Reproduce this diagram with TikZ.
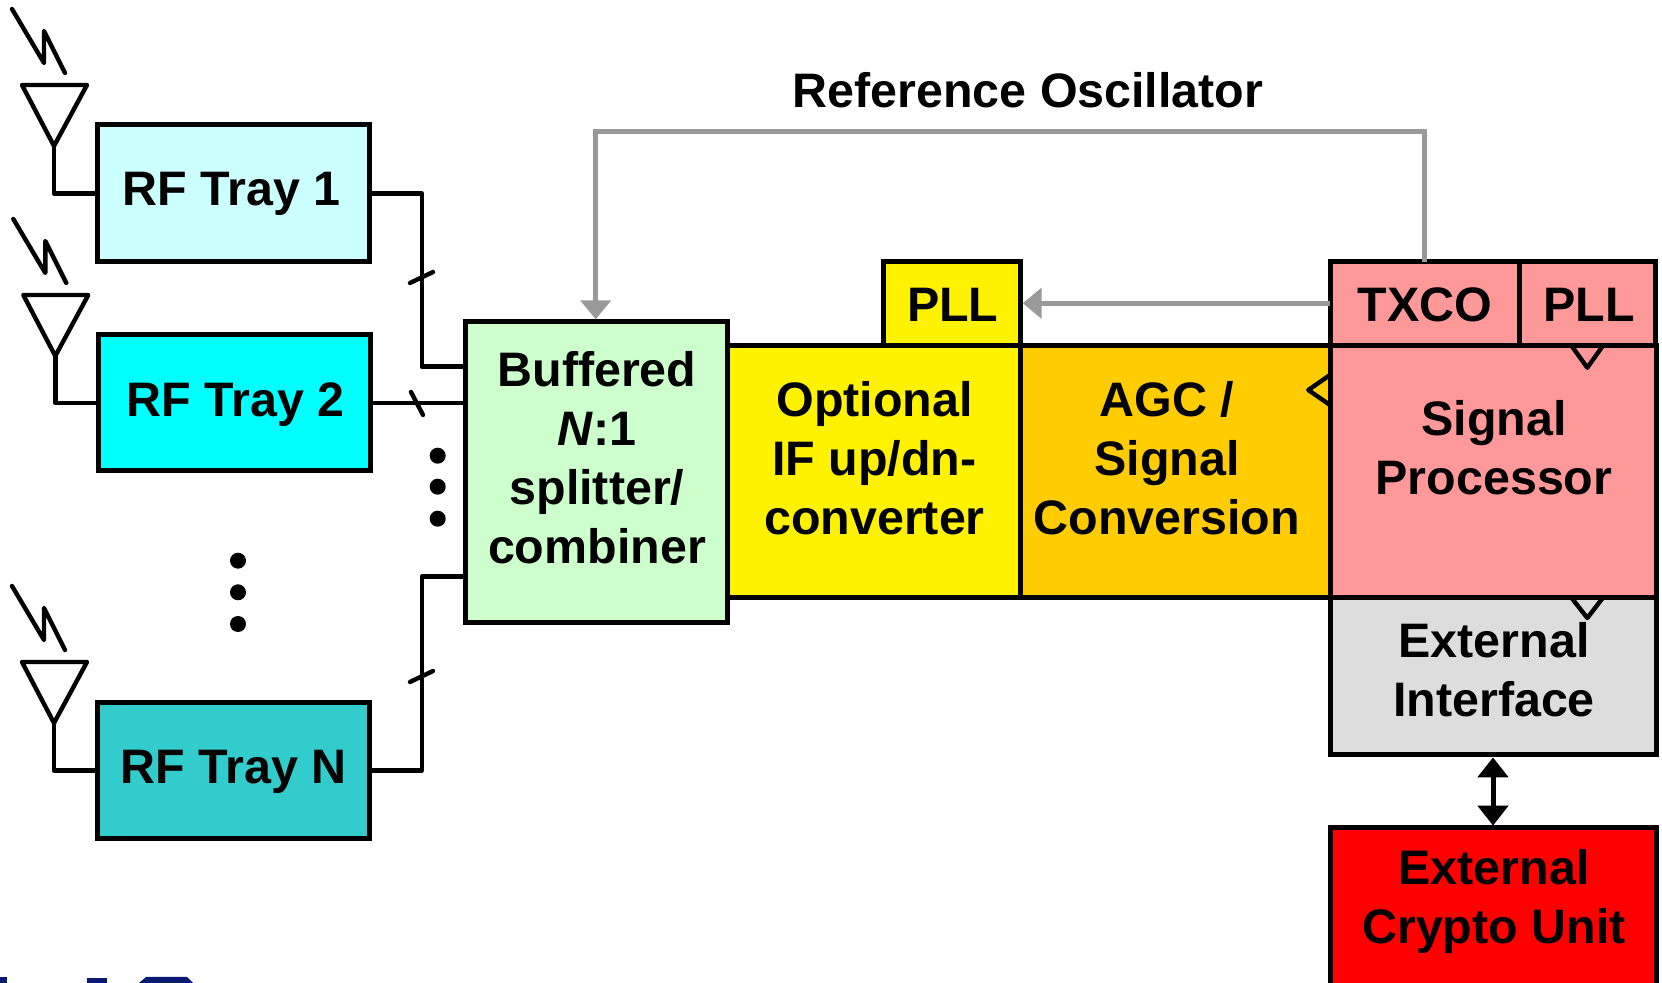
\documentclass[tikz,border=0pt]{standalone}
\usepackage{fontspec}
\setmainfont{Liberation Sans}
\usetikzlibrary{arrows.meta}
\definecolor{trayA}{HTML}{CCFFFF}
\definecolor{trayB}{HTML}{00FFFF}
\definecolor{trayC}{HTML}{33CCCC}
\definecolor{splitc}{HTML}{CCFFCC}
\definecolor{orangec}{HTML}{FFCC00}
\definecolor{pinkc}{HTML}{FF9999}
\definecolor{grayc}{HTML}{DDDDDD}
\definecolor{refgray}{HTML}{999999}
\definecolor{logoc}{HTML}{0A1A70}
\tikzset{
  box/.style={draw=black,line width=2.5pt,inner sep=0pt,outer sep=0pt,rectangle},
  wire/.style={draw=black,line width=2.2pt,line join=round},
  thin wire/.style={draw=black,line width=2.2pt,line cap=round,line join=round},
  refline/.style={draw=refgray,line width=2.5pt,line join=miter},
  reftip/.style={-{Triangle[length=9.5pt,width=15pt,color=refgray]},shorten >=1.2pt},
  label text/.style={font=\fontsize{24.2}{29.5}\selectfont\bfseries,align=center,inner sep=0pt},
  dotn/.style={circle,fill=black,draw=none,minimum size=8pt,inner sep=0pt},
  antenna/.pic={
    \draw[thin wire] (-42,-137) -- (-10,-83) -- (-10,-115) -- (11,-73);
    \draw[thin wire] (-32,-61) -- (33,-61) -- (0,0) -- cycle;
    \coordinate (-apex) at (0,0);
  }
}
\newcommand{\mybox}[6]{\node[box,fill=#6,minimum width={(#4-#2)*0.5pt},minimum height={(#5-#3)*0.5pt}] (#1) at ({(#2+#4)/2},{(#3+#5)/2}) {};}
\begin{document}
\begin{tikzpicture}[x=0.5pt,y=-0.5pt]
\clip (0,0) rectangle (1662,983);
\fill[white] (0,0) rectangle (1662,983);

% RF trays
\mybox{t1}{97}{125}{369.5}{262}{trayA}
\mybox{t2}{98}{335}{370.5}{471}{trayB}
\mybox{tn}{97}{702.7}{369.5}{838.7}{trayC}

% main chain
\mybox{yel}{727}{345.7}{1020.3}{597.3}{yellow}
\mybox{ora}{1020.3}{345.7}{1330}{597.3}{orangec}
\mybox{pll}{883.3}{261.7}{1020.3}{345.7}{yellow}
\mybox{txco}{1330}{261.7}{1519}{345.7}{pinkc}
\mybox{pllb}{1519}{261.7}{1655}{345.7}{pinkc}
\mybox{sig}{1330}{345.7}{1656}{597.3}{pinkc}
\mybox{ext}{1330}{597.3}{1656}{755}{grayc}
\mybox{cry}{1330}{828}{1656}{1010}{red}
\mybox{spl}{465.7}{321.7}{727}{623}{splitc}

% clock marks
\draw[thin wire,line cap=butt] (1571.7,346) -- (1587.3,367.7) -- (1602.7,346);
\draw[thin wire,line cap=butt] (1330,375) -- (1308.3,390) -- (1330,405);
\draw[thin wire,line cap=butt] (1571.7,598) -- (1587.3,618) -- (1602.7,598);

% antennas
\pic (a1) at (54,146) {antenna};
\pic (a2) at (55.3,356) {antenna};
\pic (an) at (54,723) {antenna};
\draw[wire] (a1-apex) |- (t1.west);
\draw[wire] (a2-apex) |- (t2.west);
\draw[wire] (an-apex) |- (tn.west);

% bus connectors
\coordinate (s1) at (465.7,366.7);
\coordinate (s2) at (465.7,403);
\coordinate (sn) at (465.7,576.7);
\draw[wire] (t1.east) -- ++(52.2,0) |- (s1);
\draw[wire] (t2.east) -- (s2);
\draw[wire] (tn.east) -- ++(52.2,0) |- (sn);

% slashes
\coordinate (k1a) at (410,283); \coordinate (k1b) at (433,272);
\coordinate (k2a) at (411,392); \coordinate (k2b) at (423,415);
\coordinate (k3a) at (410,682); \coordinate (k3b) at (433,671);
\draw[thin wire] (k1a) -- (k1b);
\draw[thin wire] (k2a) -- (k2b);
\draw[thin wire] (k3a) -- (k3b);

% dots
\node[dotn] (d1) at (437.7,455.7) {};
\node[dotn] (d2) at (437.7,486.7) {};
\node[dotn] (d3) at (437.7,518.7) {};
\node[dotn] (d4) at (238,560.7) {};
\node[dotn] (d5) at (238,592.3) {};
\node[dotn] (d6) at (238,624) {};

% reference lines
\coordinate (txtop) at (1424.7,261.7);
\coordinate (spltop) at (595.7,321.7);
\coordinate (txleft) at (1330,303.3);
\coordinate (pllright) at (1020.3,303.3);
\draw[refline,reftip] (txtop) -- (1424.7,131.5) -- (595.7,131.5) -- (spltop);
\draw[refline,reftip] (txleft) -- (pllright);

% double arrow
\coordinate (extb) at (1493,755);
\coordinate (cryt) at (1493,828);
\draw[line width=2.5pt,{Triangle[length=10pt,width=15pt]}-{Triangle[length=10pt,width=15pt]},shorten <=1.2pt,shorten >=1.2pt] (extb) -- (cryt);

% labels
\node[label text,anchor=base] (l0) at (1028,107.5) {Reference Oscillator};
\node[label text,anchor=base] (l1) at (231.7,206) {RF Tray 1};
\node[label text,anchor=base] (l2) at (235.5,416.7) {RF Tray 2};
\node[label text,anchor=base] (l3) at (233.7,784) {RF Tray N};
\node[label text,anchor=base] (l4) at (952.8,321.7) {PLL};
\node[label text,anchor=base] (l5) at (1424.7,321.7) {TXCO};
\node[label text,anchor=base] (l6) at (1589,321.7) {PLL};
\node[label text] (l7) at (597,458) {Buffered\\\textit{N}:1\\splitter/\\combiner};
\node[label text] (l8) at (874.5,458) {Optional\\IF up/dn-\\converter};
\node[label text] (l9) at (1167,458) {AGC /\\Signal\\Conversion};
\node[label text] (l10) at (1494,448) {Signal\\Processor};
\node[label text] (l11) at (1494,670) {External\\Interface};
\node[label text] (l12) at (1494,901) {External\\Crypto Unit};

% cropped artefact at lower edge
\fill[logoc] (0,977) -- (7,977) -- (7,983) -- (0,983) -- cycle;
\fill[logoc] (87,978) rectangle (107,983);
\fill[logoc] (139,983) -- (146,977) -- (187,977) -- (193,983) -- cycle;
\end{tikzpicture}
\end{document}
